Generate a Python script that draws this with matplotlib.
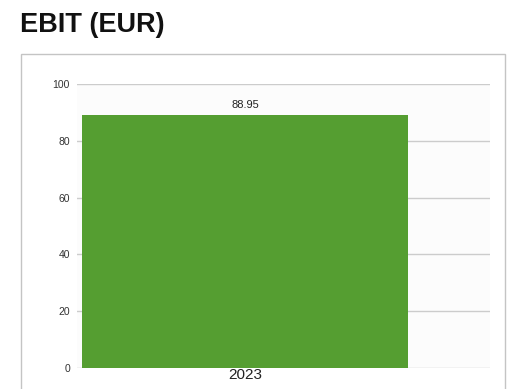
import matplotlib.pyplot as plt
from matplotlib.patches import Rectangle

years = ["2023"]
ebit = [88.95]
yticks = [0, 20, 40, 60, 80, 100]

plt.rcParams['font.family'] = ['Liberation Sans', 'DejaVu Sans']

fig = plt.figure(figsize=(5.1, 3.89), dpi=100)

# outer panel frame
fig.patches.append(Rectangle((21 / 510, -0.1), 484 / 510, 1.1 - 54 / 389,
                             transform=fig.transFigure, fill=False,
                             edgecolor="#c4c4c4", linewidth=1.0))
fig.text(20 / 510, 1 - 25 / 389, "EBIT (EUR)", fontsize=19.5, fontweight="bold",
         va="center", ha="left", color="#111111")

ax = fig.add_axes([77 / 510, 21 / 389, 413 / 510, 284 / 389])
ax.set_facecolor("#fcfcfc")

x = range(len(years))
bars = ax.bar(x, ebit, width=0.8, color="#559e31", zorder=3)
for b, v in zip(bars, ebit):
    ax.text(b.get_x() + b.get_width() / 2, v + 2, f"{v:.2f}",
            ha="center", va="bottom", fontsize=8, color="#222222")

ax.set_xlim(-0.412, 0.601)
ax.set_ylim(0, 100)
ax.set_yticks(yticks)
ax.set_yticklabels([str(t) for t in yticks], fontsize=7.5, color="#333333")
ax.set_xticks(list(x))
ax.set_xticklabels(years, fontsize=11, color="#222222")
ax.tick_params(axis="x", length=0, pad=0)
ax.tick_params(axis="y", length=0, pad=5)
ax.grid(axis="y", color="#cccccc", linewidth=1.0, zorder=1)
for s in ax.spines.values():
    s.set_visible(False)

fig.savefig("out.png", dpi=100)
